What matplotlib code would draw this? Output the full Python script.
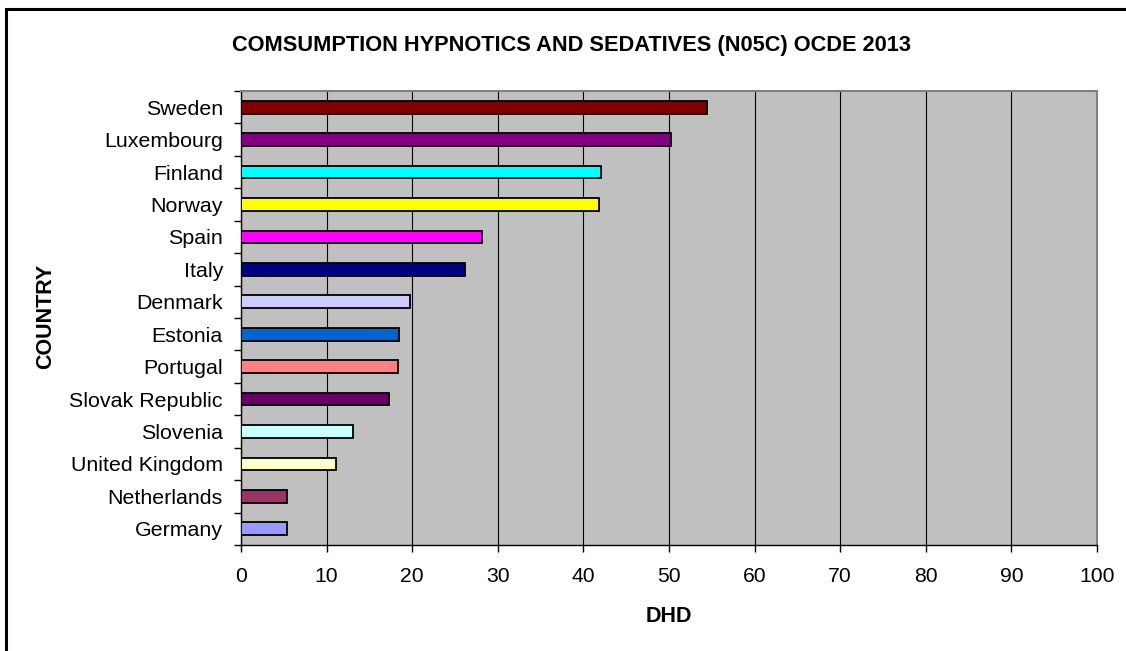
import matplotlib.pyplot as plt
from matplotlib.patches import Rectangle
import numpy as np

plt.rcParams['font.family'] = ['Liberation Sans', 'DejaVu Sans']

countries = ["Sweden", "Luxembourg", "Finland", "Norway", "Spain", "Italy",
             "Denmark", "Estonia", "Portugal", "Slovak Republic", "Slovenia",
             "United Kingdom", "Netherlands", "Germany"]
dhd = [54.4, 50.2, 42.1, 41.8, 28.2, 26.2, 19.8, 18.5, 18.3, 17.3, 13.1,
       11.1, 5.4, 5.4]
colors = ["#800000", "#800080", "#00FFFF", "#FFFF00", "#FF00FF", "#000080",
          "#CCCCFF", "#0066CC", "#FF8080", "#660066", "#CCFFFF", "#FFFFCC",
          "#993366", "#9999FF"]
xticks = np.arange(0, 101, 10)

fig = plt.figure(figsize=(11.26, 6.51), dpi=100)
ax = fig.add_axes([241 / 1126, 1 - 545 / 651, 856 / 1126, 454 / 651])

n = len(countries)
y = np.arange(n)[::-1]
ax.barh(y, dhd, height=0.39, color=colors, edgecolor="black", linewidth=1.3, zorder=3)

ax.set_facecolor("#C0C0C0")
ax.set_xlim(0, 100)
ax.set_ylim(-0.5, n - 0.5)
ax.set_xticks(xticks)
ax.set_xticklabels([str(v) for v in xticks], fontsize=15.2)
ax.set_yticks(y)
ax.set_yticklabels(countries, fontsize=15.4)
ax.set_yticks(np.arange(n + 1) - 0.5, minor=True)
ax.tick_params(axis="y", which="major", length=0, pad=13)
ax.tick_params(axis="y", which="minor", length=5, width=1, direction="out")
ax.tick_params(axis="x", length=5, width=1, direction="out", pad=10.5)
ax.grid(axis="x", color="black", linewidth=0.8, zorder=1)

for side in ["left", "bottom"]:
    ax.spines[side].set_color("black")
    ax.spines[side].set_linewidth(1)
for side in ["top", "right"]:
    ax.spines[side].set_color("#808080")
    ax.spines[side].set_linewidth(1.5)

fig.text(572 / 1126, 1 - 45 / 651, "COMSUMPTION HYPNOTICS AND SEDATIVES (N05C) OCDE 2013",
         ha="center", va="center", fontsize=15.7, fontweight="bold")
fig.text(669 / 1126, 1 - 616 / 651, "DHD", ha="center", va="center",
         fontsize=15.5, fontweight="bold")
fig.text(46 / 1126, 1 - 316 / 651, "COUNTRY", ha="center", va="center",
         fontsize=15.5, fontweight="bold", rotation=90)

# outer chart frame
fig.patches.append(Rectangle((6 / 1126, -0.1), 1.2, 1 - 9 / 651 + 0.1,
                             transform=fig.transFigure, fill=False,
                             edgecolor="black", linewidth=2.2))

fig.savefig("out.png", dpi=100)
